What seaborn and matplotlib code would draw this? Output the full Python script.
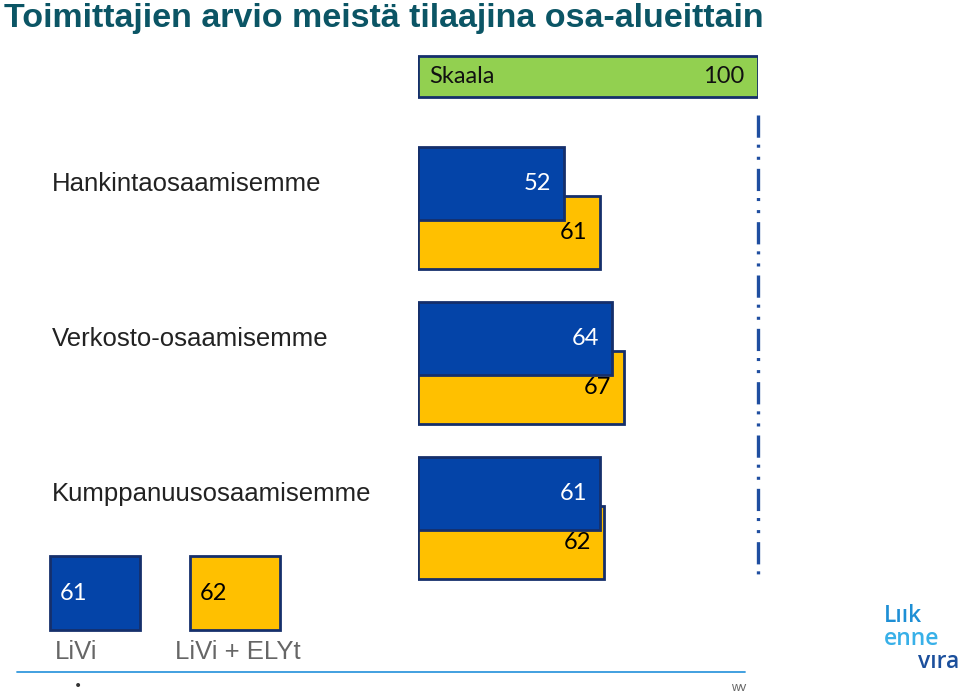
import matplotlib
matplotlib.use("Agg")
import matplotlib.pyplot as plt
from matplotlib.patches import Rectangle
import seaborn as sns
import pandas as pd
import numpy as np

# ---- data ----
categories = ["Hankintaosaamisemme", "Verkosto-osaamisemme", "Kumppanuusosaamisemme"]
livi = [52, 64, 61]
livi_ely = [61, 67, 62]
series_names = ["LiVi", "LiVi + ELYt"]
overall = [61, 62]
scale_label = "Skaala"
scale_value = 100
title = "Toimittajien arvio meistä tilaajina osa-alueittain"

BLUE = "#0444a8"
YELLOW = "#ffc000"
GREEN = "#92d050"
EDGE = "#152f6b"
TITLE_C = "#0b5565"

sns.set_theme(style="white")
plt.rcParams["lines.scale_dashes"] = False

W, H = 960, 694
fig = plt.figure(figsize=(W / 100, H / 100), dpi=100)

def fx(px):
    return px / W

def fy(py):
    return 1 - py / H

# main axes: pixels x 418..758, y 40..600
ax = fig.add_axes([fx(418), fy(600), fx(340), (600 - 40) / H])
ax.set_xlim(16, 100)
unit = 155.0
ax.set_ylim((600 - 208.25) / unit, (40 - 208.25) / unit)
ax.axis("off")

pos = np.arange(len(categories))
off = 49 / 2 / unit
bh = 73 / unit
df = pd.DataFrame({
    "cat": categories * 2,
    "value": livi + livi_ely,
    "series": [series_names[0]] * 3 + [series_names[1]] * 3,
    "y": list(pos - off) + list(pos + off),
})

VAL_FS = 17

# yellow first (behind), then blue on top
for name, color, z in [(series_names[1], YELLOW, 2), (series_names[0], BLUE, 3)]:
    sub = df[df.series == name]
    ax.barh(sub["y"], sub["value"] - 16, left=16, height=bh, color=color,
            edgecolor=EDGE, linewidth=2.0, zorder=z)
    for _, r in sub.iterrows():
        ax.annotate(str(r["value"]), (r["value"], r["y"]), xytext=(-13, 0),
                    textcoords="offset pixels", ha="right", va="center",
                    fontsize=VAL_FS, family="Lato",
                    color="white" if color == BLUE else "black", zorder=5)

# scale bar
gy = (76.5 - 208.25) / unit
ax.barh([gy], [scale_value - 16], left=16, height=41 / unit, color=GREEN,
        edgecolor=EDGE, linewidth=2.0, zorder=3)
ax.annotate(scale_label, (16, gy), xytext=(11, 0), textcoords="offset pixels",
            ha="left", va="center", fontsize=VAL_FS, family="Lato", color="#111111")
ax.annotate(str(scale_value), (scale_value, gy), xytext=(-14, 0), textcoords="offset pixels",
            ha="right", va="center", fontsize=VAL_FS, family="Lato", color="#111111")

# dash-dot-dot reference line at 100
ax.plot([scale_value, scale_value], [(115 - 208.25) / unit, (578 - 208.25) / unit],
        color="#1f4ea0", lw=2.4, linestyle=(0, (16, 5, 2.2, 6.5, 2.2, 6.5)),
        clip_on=False, zorder=4)

# category labels
for i, c in enumerate(categories):
    ax.annotate(c, (0, pos[i] - off), xycoords=("figure pixels", "data"),
                xytext=(52, 0), textcoords="offset pixels", ha="left", va="center",
                fontsize=18.5, family="Liberation Sans", color="#222222")

# title
fig.text(fx(4), fy(19), title, ha="left", va="center", fontsize=24.5,
         fontweight="bold", family="Liberation Sans", color=TITLE_C)

# legend boxes
for i, (name, val, col) in enumerate(zip(series_names, overall, [BLUE, YELLOW])):
    x0 = 50 + i * 140
    fig.patches.append(Rectangle((fx(x0), fy(630)), fx(90), (630 - 556) / H,
                                 transform=fig.transFigure, facecolor=col,
                                 edgecolor=EDGE, linewidth=2.0))
    fig.text(fx(x0 + 10), fy(593), str(val), ha="left", va="center", fontsize=VAL_FS,
             family="Lato", color="white" if col == BLUE else "black")
fig.text(fx(55), fy(652), series_names[0], ha="left", va="center", fontsize=18.5,
         family="Liberation Sans", color="#666666")
fig.text(fx(175), fy(652), series_names[1], ha="left", va="center", fontsize=18.5,
         family="Liberation Sans", color="#666666")

# footer
fig.add_artist(plt.Line2D([fx(17), fx(745)], [fy(672), fy(672)], color="#3399dd",
                          lw=1.3, transform=fig.transFigure))
fig.text(fx(78), fy(686), "•", ha="center", va="center", fontsize=10, color="#333333")
fig.text(fx(746), fy(688), "wv", ha="right", va="center", fontsize=9,
         family="Liberation Sans", color="#666666")

# logo
fig.text(fx(884), fy(622), "Lıık", ha="left", va="baseline", fontsize=16.5,
         fontweight="semibold", family="Open Sans", color="#1e8fd5")
fig.text(fx(884), fy(645), "enne", ha="left", va="baseline", fontsize=16.5,
         fontweight="semibold", family="Open Sans", color="#38b0e8")
fig.text(fx(959), fy(668), "vıra", ha="right", va="baseline", fontsize=16.5,
         fontweight="semibold", family="Open Sans", color="#1b4f9c")

fig.savefig("out.png", dpi=100, facecolor="white")
